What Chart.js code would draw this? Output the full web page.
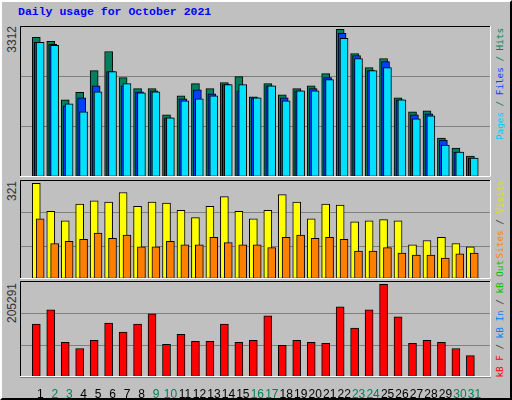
<!DOCTYPE html>
<html><head><meta charset="utf-8">
<script src="https://cdn.jsdelivr.net/npm/chart.js@4"></script>
<style>
html,body{margin:0;padding:0;background:#c0c0c0;}
#frame{position:absolute;left:0;top:0;width:508px;height:396px;background:#c0c0c0;border:2px solid;border-color:#ffffff #000000 #000000 #ffffff;}
.abs{position:absolute;}
#title{left:18px;top:5px;font:bold 11.5px "Liberation Mono",monospace;color:#0000ff;}
.vt{position:absolute;writing-mode:vertical-rl;transform:rotate(180deg);white-space:nowrap;}
.side{font:9.3px "DejaVu Sans Mono",monospace;left:494px;}
.mx{font:12px "Liberation Sans",sans-serif;color:#333;left:5px;}
</style></head><body>
<div id="frame"></div>
<div id="title" class="abs">Daily usage for October 2021</div>
<div class="vt mx" style="top:26px">3312</div>
<div class="vt mx" style="top:181px">321</div>
<div class="vt mx" style="top:283px">205291</div>
<div class="vt side" style="top:28px"><span style="color:#00c8ff">Pages</span><span style="color:#00805c"> / </span><span style="color:#0040ff">Files</span><span style="color:#00805c"> / Hits</span></div>
<div class="vt side" style="top:180px"><span style="color:#ff8000">Sites</span><span style="color:#404040"> / </span><span style="color:#e0e000">Visits</span></div>
<div class="vt side" style="bottom:22px"><span style="color:#ff0000">kB F</span><span style="color:#404040"> / </span><span style="color:#0080ff">kB In</span><span style="color:#404040"> / </span><span style="color:#00c000">kB Out</span></div>
<div class="abs" style="left:20px;top:26px;width:471px;height:151px"><canvas id="c1"></canvas></div>
<div class="abs" style="left:20px;top:180px;width:471px;height:99px"><canvas id="c2"></canvas></div>
<div class="abs" style="left:20px;top:281px;width:471px;height:119px"><canvas id="c3"></canvas></div>
<script>
const days=[1,2,3,4,5,6,7,8,9,10,11,12,13,14,15,16,17,18,19,20,21,22,23,24,25,26,27,28,29,30,31];
const weekend=[2,3,9,10,16,17,23,24,30,31];
const hits=[3131,3041,1731,1897,2386,2815,2228,1980,1980,1393,1822,2093,1980,2115,2251,1799,2093,1844,1980,2047,2318,3312,2770,2454,2657,1776,1460,1483,873,647,467];
const files=[3018,2973,1596,1776,2047,2363,2047,1912,1934,1325,1754,1957,1867,2070,1934,1776,2047,1776,1934,1980,2228,3222,2725,2386,2589,1731,1393,1415,828,557,422];
const pages=[3018,2951,1641,1460,1912,2363,2093,1889,1912,1325,1709,1754,1822,2070,2070,1776,2047,1709,1934,1934,2183,3109,2657,2386,2454,1731,1302,1370,715,557,422];
const visits=[321,227,195,251,262,258,290,244,258,255,230,206,244,276,227,202,230,283,258,202,251,248,192,195,199,195,115,129,140,119,108];
const sites=[202,119,126,133,154,136,147,108,108,126,115,115,140,122,115,115,105,140,147,136,140,133,94,94,105,87,80,80,70,84,87];
const kbytes=[117300,148900,76700,63200,81200,119600,99300,117300,139900,72200,94800,79000,79000,117300,76700,81200,135400,69900,81200,76700,74400,155700,108300,148900,205291,133100,74400,81200,76700,63200,47400];

const D=0.134; // ~2px in day units
const pts=(arr,off)=>arr.map((v,i)=>({x:days[i]+off,y:v}));
const frame={id:'frame',afterDraw(ch){const a=ch.chartArea,c=ch.ctx;c.save();c.lineWidth=1;
 c.strokeStyle='#000';c.beginPath();c.moveTo(a.left+0.5,a.bottom);c.lineTo(a.left+0.5,a.top+0.5);c.lineTo(a.right,a.top+0.5);c.stroke();
 c.strokeStyle='#fff';c.beginPath();c.moveTo(a.right-0.5,a.top);c.lineTo(a.right-0.5,a.bottom-0.5);c.lineTo(a.left,a.bottom-0.5);c.stroke();c.restore();}};
function ds(arr,off,color,order){return {data:pts(arr,off),backgroundColor:color,borderColor:'#000',borderWidth:1,barThickness:8,grouped:false,order:order,borderSkipped:false};}
function make(id,datasets,max,showX){
 return new Chart(document.getElementById(id),{type:'bar',data:{datasets},
  options:{responsive:true,maintainAspectRatio:false,animation:false,events:[],
   layout:{padding:0},
   plugins:{legend:{display:false},tooltip:{enabled:false}},
   scales:{
    x:{type:'linear',min:0.4,max:31.9,display:showX,grid:{display:false},border:{display:false},
       afterBuildTicks:s=>{s.ticks=days.map(d=>({value:d}));},
       afterFit:s=>{s.height=showX?23:0;},
       ticks:{labelOffset:4,padding:2,maxRotation:0,minRotation:0,autoSkip:false,font:{family:'Liberation Sans',size:12},
         color:c=>weekend.includes(c.tick&&c.tick.value)?'#00805c':'#000',callback:v=>String(v)}},
    y:{min:0,max:max,grid:{color:'#808080',drawTicks:false},border:{display:false},
       afterBuildTicks:s=>{s.ticks=[0,max/3,2*max/3,max].map(v=>({value:v}));},
       afterFit:s=>{s.width=0;},ticks:{display:false}}
   }},plugins:[frame]});
}
make('c1',[ds(hits,0,'#00805c',3),ds(files,D,'#0040ff',2),ds(pages,2*D,'#00e0ff',1)],3386,false);
make('c2',[ds(visits,0,'#ffff00',2),ds(sites,2*D,'#ff8000',1)],332,false);
make('c3',[ds(kbytes,0,'#ff0000',1)],212700,true);
</script></body></html>
